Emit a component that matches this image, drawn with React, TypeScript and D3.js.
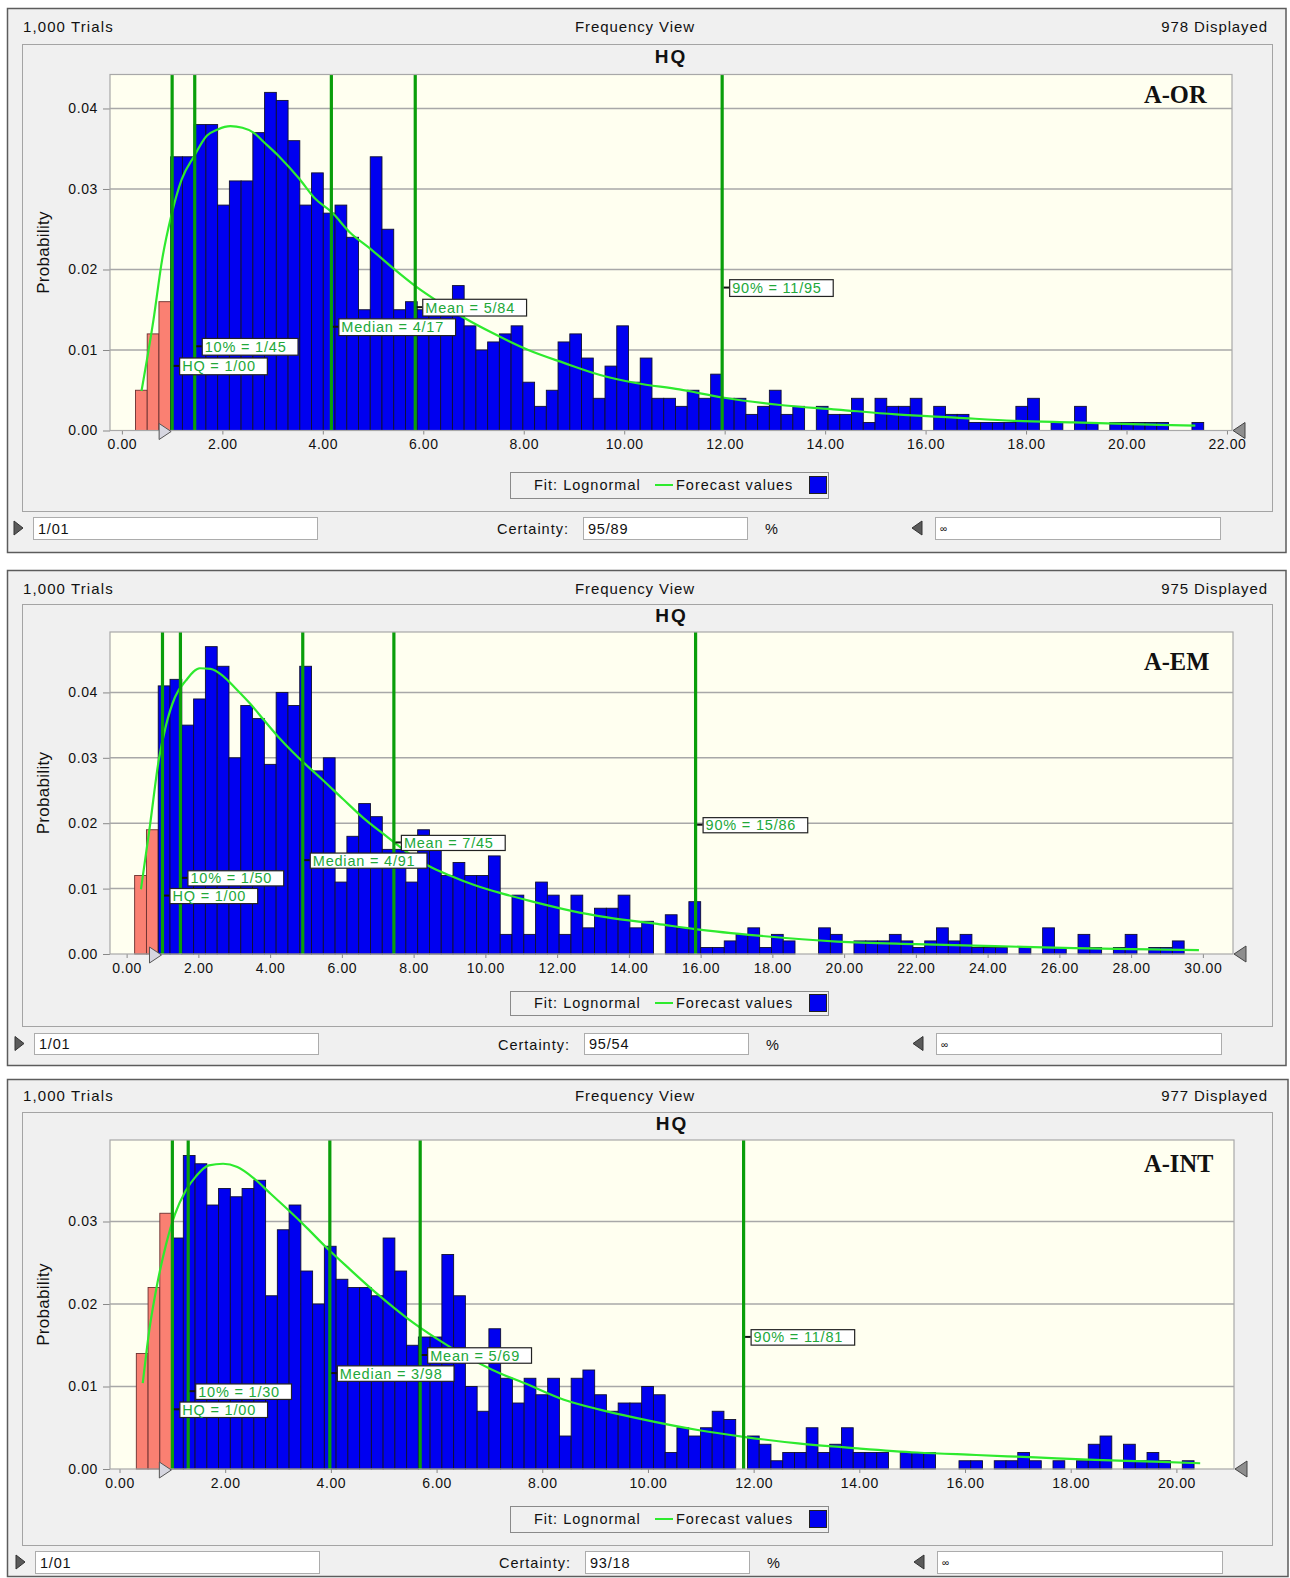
import React, { useEffect, useRef } from "react";
import * as d3 from "d3";

const FONT = "'Liberation Sans', Arial, sans-serif";

// ---------- A-OR ----------
const orBins = [
  0.005, 0.012, 0.016, 0.034, 0.034, 0.038, 0.038, 0.028, 0.031, 0.031,
  0.037, 0.042, 0.041, 0.036, 0.028, 0.032, 0.027, 0.028, 0.024, 0.015,
  0.034, 0.025, 0.015, 0.016, 0.015, 0.015, 0.016, 0.018, 0.013, 0.010,
  0.011, 0.012, 0.013, 0.006, 0.003, 0.005, 0.011, 0.012, 0.009, 0.004,
  0.008, 0.013, 0.006, 0.009, 0.004, 0.004, 0.003, 0.005, 0.004, 0.007,
  0.004, 0.004, 0.002, 0.003, 0.005, 0.002, 0.003, 0, 0.003, 0.002,
  0.002, 0.004, 0.001, 0.004, 0.003, 0.003, 0.004, 0, 0.003, 0.002,
  0.002, 0.001, 0.001, 0.001, 0.001, 0.003, 0.004, 0, 0.001, 0,
  0.003, 0.001, 0, 0.001, 0.001, 0.001, 0.001, 0.001, 0, 0, 0.001,
];
const orBinStart = 0.27;
const orBinWidth = 0.2337;
const orPinkBins = 3;
const orFit = [
  [0.39, 0.0049], [0.63, 0.0138], [0.8, 0.0212], [0.98, 0.0266], [1.19, 0.0312],
  [1.44, 0.0341], [1.69, 0.0366], [1.91, 0.0374], [2.16, 0.0378], [2.4, 0.0376],
  [2.62, 0.037], [2.83, 0.0358], [3.12, 0.0341], [3.54, 0.0312], [3.83, 0.0289],
  [4.18, 0.0271], [4.54, 0.0246], [4.96, 0.0225], [5.39, 0.0202], [5.85, 0.0179],
  [6.32, 0.0159], [6.81, 0.014], [7.38, 0.0121], [8.09, 0.01], [8.8, 0.0084],
  [9.52, 0.0069], [10.23, 0.0059], [11.1, 0.0051], [11.96, 0.0041], [13.06, 0.0032],
  [14.24, 0.0026], [15.41, 0.002], [16.59, 0.0016], [17.76, 0.0012], [18.94, 0.001],
  [20.12, 0.0008], [21.37, 0.0006],
];
const orStatValues = [11.95, 5.84, 4.17, 1.45, 1.0];
const orStatText = ["90% = 11/95", "Mean = 5/84", "Median = 4/17", "10% = 1/45", "HQ = 1/00"];
const orXTicks = [0, 2, 4, 6, 8, 10, 12, 14, 16, 18, 20, 22];
const orYTicks = [0, 0.01, 0.02, 0.03, 0.04];

// ---------- A-EM ----------
const emBins = [
  0.012, 0.019, 0.041, 0.042, 0.035, 0.039, 0.047, 0.044, 0.030, 0.038,
  0.036, 0.029, 0.040, 0.038, 0.044, 0.028, 0.030, 0.011, 0.018, 0.023,
  0.021, 0.016, 0.016, 0.011, 0.019, 0.017, 0.012, 0.014, 0.012, 0.012,
  0.015, 0.003, 0.009, 0.003, 0.011, 0.009, 0.003, 0.009, 0.004, 0.007,
  0.007, 0.009, 0.004, 0.005, 0, 0.006, 0.004, 0.008, 0.001, 0.001,
  0.002, 0.003, 0.004, 0.001, 0.003, 0.002, 0, 0, 0.004, 0.003,
  0, 0.002, 0.002, 0.002, 0.003, 0.002, 0.001, 0.002, 0.004, 0.002,
  0.003, 0.001, 0.001, 0.001, 0, 0.001, 0, 0.004, 0.001, 0,
  0.003, 0.001, 0, 0.001, 0.003, 0, 0.001, 0.001, 0.002,
];
const emBinStart = 0.224;
const emBinWidth = 0.3287;
const emPinkBins = 2;
const emFit = [
  [0.4, 0.0099], [0.65, 0.0196], [0.9, 0.0298], [1.1, 0.035], [1.35, 0.0393],
  [1.65, 0.0418], [2.04, 0.0437], [2.34, 0.0436], [2.69, 0.0425], [3.04, 0.0406],
  [3.44, 0.0383], [3.84, 0.0357], [4.23, 0.0332], [4.63, 0.0309], [4.93, 0.0293],
  [5.43, 0.0268], [6.03, 0.0237], [6.62, 0.0207], [7.22, 0.0181], [7.81, 0.0156],
  [8.41, 0.0135], [9.01, 0.012], [9.71, 0.0105], [10.5, 0.0092], [11.4, 0.0079],
  [12.4, 0.0066], [13.4, 0.0056], [14.79, 0.0046], [15.85, 0.0038], [17.61, 0.0028],
  [19.81, 0.0019], [22.0, 0.0015], [24.2, 0.0012], [26.4, 0.0009], [28.6, 0.0007],
  [29.89, 0.0006],
];
const emStatValues = [15.86, 7.45, 4.91, 1.5, 1.0];
const emStatText = ["90% = 15/86", "Mean = 7/45", "Median = 4/91", "10% = 1/50", "HQ = 1/00"];
const emXTicks = [0, 2, 4, 6, 8, 10, 12, 14, 16, 18, 20, 22, 24, 26, 28, 30];
const emYTicks = [0, 0.01, 0.02, 0.03, 0.04];

// ---------- A-INT ----------
const intBins = [
  0.014, 0.022, 0.031, 0.028, 0.038, 0.037, 0.032, 0.034, 0.033, 0.034,
  0.035, 0.021, 0.029, 0.032, 0.024, 0.020, 0.027, 0.023, 0.022, 0.022,
  0.021, 0.028, 0.024, 0.015, 0.016, 0.016, 0.026, 0.021, 0.010, 0.007,
  0.017, 0.011, 0.008, 0.011, 0.009, 0.011, 0.004, 0.011, 0.012, 0.009,
  0.007, 0.008, 0.008, 0.010, 0.009, 0.002, 0.005, 0.004, 0.005, 0.007,
  0.006, 0, 0.004, 0.003, 0.001, 0.002, 0.002, 0.005, 0.002, 0.003,
  0.005, 0.002, 0.002, 0.002, 0, 0.002, 0.002, 0.002, 0, 0,
  0.001, 0.001, 0, 0.001, 0.001, 0.002, 0.001, 0, 0.001, 0,
  0.001, 0.003, 0.004, 0, 0.003, 0.001, 0.002, 0.001, 0, 0.001,
];
const intBinStart = 0.318;
const intBinWidth = 0.2224;
const intPinkBins = 3;
const intFit = [
  [0.44, 0.0104], [0.57, 0.0171], [0.71, 0.0223], [0.88, 0.0272], [1.05, 0.0309],
  [1.25, 0.0337], [1.45, 0.0355], [1.69, 0.0368], [1.96, 0.037], [2.23, 0.0366],
  [2.53, 0.0353], [2.87, 0.0333], [3.21, 0.0313], [3.55, 0.0292], [3.89, 0.027],
  [4.36, 0.0242], [4.9, 0.0211], [5.44, 0.0183], [5.98, 0.0159], [6.52, 0.0138],
  [7.06, 0.012], [7.74, 0.0102], [8.41, 0.0084], [9.09, 0.0072], [9.77, 0.0062],
  [10.97, 0.0047], [11.81, 0.0039], [12.84, 0.0031], [13.97, 0.0025], [15.09, 0.002],
  [16.21, 0.0017], [17.34, 0.0014], [18.46, 0.0011], [19.58, 0.0009], [20.45, 0.0007],
];
const intStatValues = [11.81, 5.69, 3.98, 1.3, 1.0];
const intStatText = ["90% = 11/81", "Mean = 5/69", "Median = 3/98", "10% = 1/30", "HQ = 1/00"];
const intXTicks = [0, 2, 4, 6, 8, 10, 12, 14, 16, 18, 20];
const intYTicks = [0, 0.01, 0.02, 0.03];

const tags = ["A-OR", "A-EM", "A-INT"];
const displayed = ["978 Displayed", "975 Displayed", "977 Displayed"];
const certainty = ["95/89", "95/54", "93/18"];

const panels = [
  {
    bins: orBins, binStart: orBinStart, binWidth: orBinWidth, pink: orPinkBins, fit: orFit,
    statValues: orStatValues, statText: orStatText, xTicks: orXTicks, yTicks: orYTicks,
    tag: tags[0], displayed: displayed[0], certainty: certainty[0],
    L: {
      outerTop: 8, outerBottom: 552, outerRight: 1286, headerY: 26, innerTop: 44, innerBottom: 511,
      titleY: 56, plotTop: 74.5, plotBottom: 430.5, plotLeft: 110, plotRight: 1232,
      xMin: -0.237, xMax: 22.1, yMax: 0.04422, legendTop: 472, legendBottom: 498,
      ctrlTop: 517, ctrlBottom: 539, tagY: 94, shift: 0,
    },
  },
  {
    bins: emBins, binStart: emBinStart, binWidth: emBinWidth, pink: emPinkBins, fit: emFit,
    statValues: emStatValues, statText: emStatText, xTicks: emXTicks, yTicks: emYTicks,
    tag: tags[1], displayed: displayed[1], certainty: certainty[1],
    L: {
      outerTop: 570, outerBottom: 1065, outerRight: 1286, headerY: 588, innerTop: 604, innerBottom: 1026,
      titleY: 615, plotTop: 632, plotBottom: 954, plotLeft: 110, plotRight: 1233,
      xMin: -0.463, xMax: 30.84, yMax: 0.04924, legendTop: 991, legendBottom: 1015,
      ctrlTop: 1033, ctrlBottom: 1054, tagY: 661, shift: 1,
    },
  },
  {
    bins: intBins, binStart: intBinStart, binWidth: intBinWidth, pink: intPinkBins, fit: intFit,
    statValues: intStatValues, statText: intStatText, xTicks: intXTicks, yTicks: intYTicks,
    tag: tags[2], displayed: displayed[2], certainty: certainty[2],
    L: {
      outerTop: 1079, outerBottom: 1576, outerRight: 1288, headerY: 1095, innerTop: 1112, innerBottom: 1545,
      titleY: 1123, plotTop: 1140, plotBottom: 1469, plotLeft: 110, plotRight: 1234,
      xMin: -0.18, xMax: 21.09, yMax: 0.03988, legendTop: 1506, legendBottom: 1532,
      ctrlTop: 1551, ctrlBottom: 1573, tagY: 1163, shift: 2,
    },
  },
];

function txt(g: any, x: number, y: number, s: string, o: any = {}) {
  return g
    .append("text")
    .attr("x", x)
    .attr("y", y)
    .attr("dominant-baseline", "central")
    .attr("text-anchor", o.anchor || "start")
    .attr("font-family", o.family || FONT)
    .attr("font-size", o.size || 15)
    .attr("font-weight", o.weight || "normal")
    .attr("letter-spacing", o.ls ?? 0.9)
    .attr("fill", o.fill || "#111")
    .text(s);
}

function drawPanel(svg: any, p: any) {
  const L = p.L;
  const g = svg.append("g");

  // outer frame and header
  g.append("rect")
    .attr("x", 7.5).attr("y", L.outerTop + 0.5)
    .attr("width", L.outerRight - 7.5).attr("height", L.outerBottom - L.outerTop)
    .attr("fill", "#f0f0f0").attr("stroke", "#5c5c5c").attr("stroke-width", 1.5);
  txt(g, 23, L.headerY, "1,000 Trials", { ls: 1.1 });
  txt(g, 635, L.headerY, "Frequency View", { anchor: "middle" });
  txt(g, 1268, L.headerY, p.displayed, { anchor: "end" });

  g.append("rect")
    .attr("x", 22.5).attr("y", L.innerTop + 0.5)
    .attr("width", 1250).attr("height", L.innerBottom - L.innerTop)
    .attr("fill", "#f0f0f0").attr("stroke", "#a4a4a4");

  const x = d3.scaleLinear().domain([L.xMin, L.xMax]).range([L.plotLeft, L.plotRight]);
  const y = d3.scaleLinear().domain([0, L.yMax]).range([L.plotBottom, L.plotTop]);

  txt(g, (L.plotLeft + L.plotRight) / 2, L.titleY, "HQ", { anchor: "middle", size: 19, weight: "bold", ls: 2 });

  // plot background
  g.append("rect")
    .attr("x", L.plotLeft).attr("y", L.plotTop)
    .attr("width", L.plotRight - L.plotLeft).attr("height", L.plotBottom - L.plotTop)
    .attr("fill", "#fffff0");

  // gridlines
  g.selectAll(".grid")
    .data(p.yTicks.filter((d: number) => d > 0))
    .join("line")
    .attr("x1", L.plotLeft).attr("x2", L.plotRight)
    .attr("y1", (d: number) => y(d)).attr("y2", (d: number) => y(d))
    .attr("stroke", "#a8a8a8").attr("stroke-width", 1.5);

  // axes
  const yAxis = g.append("g")
    .attr("transform", `translate(${L.plotLeft},0)`)
    .call(d3.axisLeft(y).tickValues(p.yTicks).tickFormat(d3.format(".2f")).tickSize(7).tickPadding(5));
  yAxis.select(".domain").remove();
  yAxis.selectAll("line").attr("stroke", "#888");
  yAxis.selectAll("text").attr("font-size", 14).attr("font-family", FONT).attr("letter-spacing", 0.6).attr("fill", "#111");

  const xAxis = g.append("g")
    .attr("transform", `translate(0,${L.plotBottom})`)
    .call(d3.axisBottom(x).tickValues(p.xTicks).tickFormat(d3.format(".2f")).tickSize(4).tickPadding(5));
  xAxis.select(".domain").remove();
  xAxis.selectAll("line").attr("stroke", "#888");
  xAxis.selectAll("text").attr("font-size", 14).attr("font-family", FONT).attr("letter-spacing", 0.6).attr("fill", "#111");

  // histogram bars
  const bars = p.bins.map((v: number, i: number) => ({ v, i }));
  g.selectAll(".bar")
    .data(bars.filter((d: any) => d.v > 0))
    .join("rect")
    .attr("x", (d: any) => x(p.binStart + d.i * p.binWidth))
    .attr("width", (d: any) => x(p.binStart + (d.i + 1) * p.binWidth) - x(p.binStart + d.i * p.binWidth))
    .attr("y", (d: any) => y(d.v))
    .attr("height", (d: any) => L.plotBottom - y(d.v))
    .attr("fill", (d: any) => (d.i < p.pink ? "#fa8072" : "#0000f0"))
    .attr("stroke", (d: any) => (d.i < p.pink ? "#6b3030" : "#101030"))
    .attr("stroke-width", 0.9);

  // lognormal fit
  const line = d3.line<number[]>().x((d) => x(d[0])).y((d) => y(d[1])).curve(d3.curveMonotoneX);
  g.append("path")
    .attr("d", line(p.fit))
    .attr("fill", "none").attr("stroke", "#2eea2e").attr("stroke-width", 2.2);

  // statistic lines
  g.selectAll(".stat")
    .data(p.statValues)
    .join("line")
    .attr("x1", (d: number) => x(d)).attr("x2", (d: number) => x(d))
    .attr("y1", L.plotTop).attr("y2", L.plotBottom)
    .attr("stroke", "#0a9e0a").attr("stroke-width", 3.2);

  // statistic labels
  const ph = L.plotBottom - L.plotTop;
  p.statValues.forEach((v: number, k: number) => {
    const lx = x(v);
    const top = L.plotTop + ph * (0.575 + 0.055 * k);
    const h = ph * 0.047;
    const bx = lx + 7;
    const lg = g.append("g");
    const box = lg.append("rect");
    const t = txt(lg, bx + 3, top + h / 2 + 0.5, p.statText[k], { size: 14.5, ls: 0.8, fill: "#22a83a" });
    const w = (t.node() as SVGTextElement).getComputedTextLength() + 14;
    box.attr("x", bx + 0.5).attr("y", top + 0.5).attr("width", w).attr("height", h)
      .attr("fill", "#fff").attr("stroke", "#222").attr("stroke-width", 1.2);
    lg.append("line")
      .attr("x1", lx + 1.5).attr("x2", bx).attr("y1", top + h / 2).attr("y2", top + h / 2)
      .attr("stroke", "#111").attr("stroke-width", 2);
  });

  // plot border
  g.append("rect")
    .attr("x", L.plotLeft).attr("y", L.plotTop)
    .attr("width", L.plotRight - L.plotLeft).attr("height", L.plotBottom - L.plotTop)
    .attr("fill", "none").attr("stroke", "#a8a8a8").attr("stroke-width", 1.2);

  // certainty grabbers
  const hx = x(p.statValues[4]);
  const b = L.plotBottom;
  g.append("polygon")
    .attr("points", `${hx - 13},${b - 7} ${hx - 1},${b + 1} ${hx - 13},${b + 9}`)
    .attr("fill", "#d6d6e0").attr("stroke", "#555").attr("stroke-width", 1);
  const rx = L.plotRight;
  g.append("polygon")
    .attr("points", `${rx + 13},${b - 8} ${rx + 1},${b} ${rx + 13},${b + 8}`)
    .attr("fill", "#8e8e8e").attr("stroke", "#444").attr("stroke-width", 1);

  // y label and tag
  const cy = (L.plotTop + L.plotBottom) / 2;
  g.append("text")
    .attr("transform", `translate(43,${cy}) rotate(-90)`)
    .attr("text-anchor", "middle").attr("dominant-baseline", "central")
    .attr("font-family", FONT).attr("font-size", 17).attr("letter-spacing", 0.3)
    .attr("fill", "#111").text("Probability");
  txt(g, 1144, L.tagY, p.tag, { family: "'Liberation Serif', 'Times New Roman', serif", size: 24.5, weight: "bold", ls: 0 });

  // legend
  const lm = (L.legendTop + L.legendBottom) / 2;
  g.append("rect")
    .attr("x", 510.5).attr("y", L.legendTop + 0.5)
    .attr("width", 318).attr("height", L.legendBottom - L.legendTop)
    .attr("fill", "#f0f0f0").attr("stroke", "#8a8a8a");
  txt(g, 534, lm, "Fit: Lognormal", { size: 14.5, ls: 1 });
  g.append("line").attr("x1", 655).attr("x2", 673).attr("y1", lm).attr("y2", lm)
    .attr("stroke", "#2eea2e").attr("stroke-width", 2);
  txt(g, 676, lm, "Forecast values", { size: 14.5, ls: 1 });
  g.append("rect").attr("x", 809.5).attr("y", lm - 8.5).attr("width", 17).attr("height", 17)
    .attr("fill", "#0000f0").attr("stroke", "#222");

  // bottom controls
  const s = L.shift;
  const cm = (L.ctrlTop + L.ctrlBottom) / 2;
  const ch = L.ctrlBottom - L.ctrlTop;
  g.append("polygon")
    .attr("points", `${14 + s},${cm - 7} ${23 + s},${cm} ${14 + s},${cm + 7}`)
    .attr("fill", "#5a5a5a").attr("stroke", "#333");
  const boxes = [
    [33 + s, 317 + s, "1/01", 14.5],
    [583 + s, 747 + s, p.certainty, 14.5],
    [935 + s, 1220 + s, "∞", 10],
  ];
  boxes.forEach(([x0, x1, t, fs]: any) => {
    g.append("rect").attr("x", x0 + 0.5).attr("y", L.ctrlTop + 0.5)
      .attr("width", x1 - x0).attr("height", ch)
      .attr("fill", "#fff").attr("stroke", "#acacac");
    txt(g, x0 + 5, cm + 0.5, t, { size: fs, ls: 0.8 });
  });
  txt(g, 569 + s, cm + 1, "Certainty:", { anchor: "end", size: 14.5, ls: 1 });
  txt(g, 765 + s, cm + 1, "%", { size: 14.5 });
  g.append("polygon")
    .attr("points", `${922 + s},${cm - 7} ${912 + s},${cm} ${922 + s},${cm + 7}`)
    .attr("fill", "#5a5a5a").attr("stroke", "#333");
}

export default function App() {
  const ref = useRef<SVGSVGElement>(null);

  useEffect(() => {
    const svg = d3.select(ref.current);
    svg.selectAll("*").remove();
    svg.append("rect").attr("width", 1290).attr("height", 1578).attr("fill", "#fff");
    panels.forEach((p) => drawPanel(svg, p));
  }, []);

  return (
    <svg
      ref={ref}
      width={1290}
      height={1578}
      style={{ position: "absolute", left: 0, top: 0, display: "block" }}
    />
  );
}
